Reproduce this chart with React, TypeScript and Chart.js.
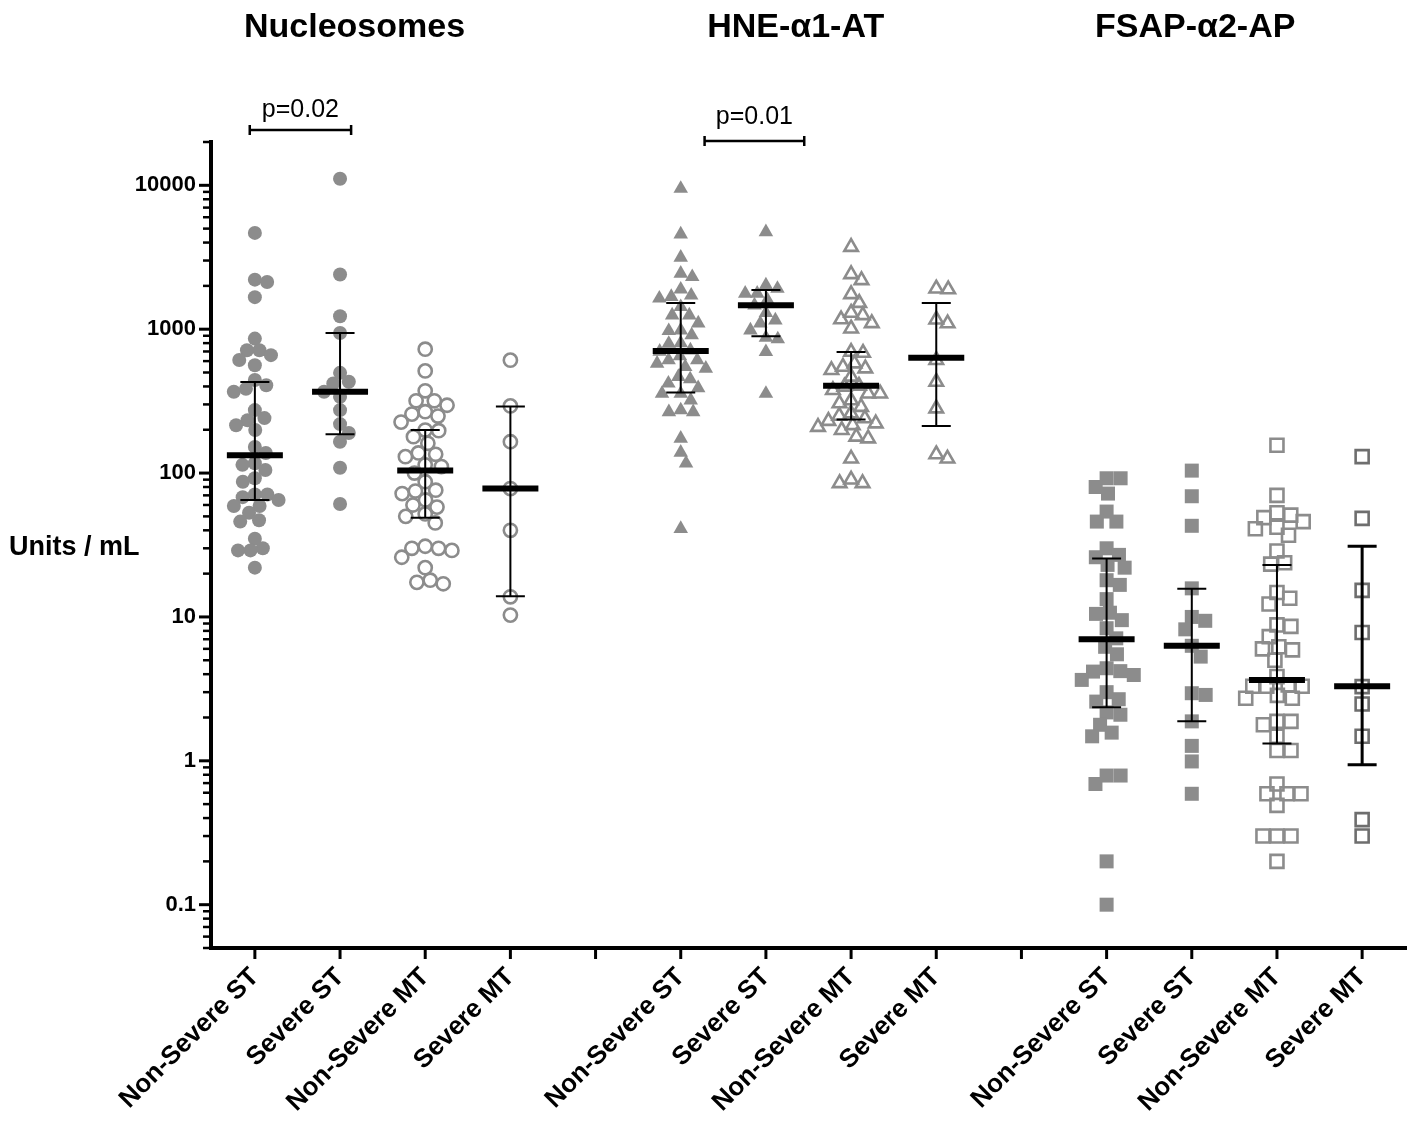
import React, { useEffect, useRef } from 'react';
import { Chart, registerables } from 'chart.js';

Chart.register(...registerables);

// ---------- data ----------
const categories = [
  'Non-Severe ST', 'Severe ST', 'Non-Severe MT', 'Severe MT', '',
  'Non-Severe ST', 'Severe ST', 'Non-Severe MT', 'Severe MT', '',
  'Non-Severe ST', 'Severe ST', 'Non-Severe MT', 'Severe MT',
];
const groupTitles = ['Nucleosomes', 'HNE-α1-AT', 'FSAP-α2-AP'];
const yTickLabels = [0.1, 1, 10, 100, 1000, 10000];
const pValueLabels = ['p=0.02', 'p=0.01'];
const yAxisTitle = 'Units / mL';

const nucNonSevereST = [4670, 2210, 2130, 1670, 860, 714, 714, 660, 610, 562, 443, 408, 385, 367, 274, 241, 233, 215, 199, 152, 138, 117, 114, 105, 92, 87, 71, 71, 68, 65, 59, 59, 53, 47, 46, 35, 30, 29, 29, 22];
const nucSevereST = [11100, 2400, 1230, 940, 497, 431, 420, 367, 339, 274, 219, 190, 165, 109, 61];
const nucNonSevereMT = [726, 513, 373, 318, 318, 296, 267, 257, 249, 226, 199, 197, 179, 161, 138, 135, 130, 114, 111, 100, 87, 76, 75, 72, 65, 60, 58, 52, 50, 45, 31, 30, 30, 29, 26, 22, 18, 17.4, 17];
const nucSevereMT = [609, 293, 165, 78, 40, 13.8, 10.3];

const hneNonSevereST = [9490, 4570, 3150, 2440, 2310, 1890, 1720, 1680, 1640, 1430, 1250, 1250, 1100, 984, 973, 909, 800, 794, 714, 700, 650, 610, 610, 578, 547, 533, 467, 450, 420, 390, 357, 357, 321, 274, 266, 266, 174, 139, 117, 41];
const hneSevereST = [4740, 2020, 1916, 1770, 1770, 1600, 1468, 1300, 1155, 1097, 984, 875, 853, 695, 357];
const hneNonSevereMT = [3730, 2410, 2190, 1750, 1520, 1300, 1250, 1170, 1100, 1010, 695, 684, 578, 547, 533, 519, 467, 404, 398, 377, 357, 357, 320, 305, 288, 260, 250, 240, 230, 221, 215, 209, 199, 179, 174, 126, 90, 85, 85];
const hneSevereMT = [1916, 1890, 1167, 1097, 610, 431, 281, 135, 126];

const fsapNonSevereST = [92, 92, 80, 72, 54, 46, 46, 30, 27, 26, 23, 22, 18, 16.7, 13.3, 10.7, 10.5, 9.5, 8.35, 7.1, 6.2, 5.5, 4.4, 4.2, 4.17, 3.95, 3.65, 3.0, 2.68, 2.58, 2.17, 2.09, 1.78, 1.57, 1.48, 0.79, 0.79, 0.69, 0.2, 0.1];
const fsapSevereST = [104, 69, 43, 15.8, 10, 9.4, 8.2, 6.3, 5.3, 2.95, 2.87, 1.88, 1.27, 0.99, 0.59];
const fsapNonSevereMT = [156, 70, 53, 51, 49, 46, 42, 41, 37, 28.7, 23.8, 23.3, 14.8, 13.5, 12.3, 8.8, 8.6, 7.3, 6.2, 6.0, 5.9, 5.0, 3.85, 3.37, 3.3, 3.3, 3.3, 2.85, 2.72, 2.72, 1.88, 1.88, 1.78, 1.48, 1.18, 1.18, 0.69, 0.59, 0.59, 0.59, 0.49, 0.3, 0.3, 0.3, 0.2];
const fsapSevereMT = [130, 48.4, 15.3, 7.8, 3.28, 2.48, 1.48, 0.39, 0.3];

// median and interquartile bars per category (null = gap)
const medians = [133, 367, 104, 78, null, 706, 1468, 404, 632, null, 7.0, 6.3, 3.65, 3.3];
const lowerBars = [65, 186, 49, 13.9, null, 363, 893, 236, 212, null, 2.36, 1.88, 1.32, 0.94];
const upperBars = [429, 942, 199, 290, null, 1520, 1870, 695, 1520, null, 25.5, 15.7, 23, 31];

// ---------- styles ----------
const FONT = '"Liberation Sans", Arial, Helvetica, sans-serif';
const GRAY = '#8c8c8c';
const DARK_GRAY = '#6e6e6e';

type Series = { cat: number; values: number[]; shape: string; filled: boolean; color: string };
const seriesList: Series[] = [
  { cat: 0, values: nucNonSevereST, shape: 'circle', filled: true, color: GRAY },
  { cat: 1, values: nucSevereST, shape: 'circle', filled: true, color: GRAY },
  { cat: 2, values: nucNonSevereMT, shape: 'circle', filled: false, color: GRAY },
  { cat: 3, values: nucSevereMT, shape: 'circle', filled: false, color: GRAY },
  { cat: 5, values: hneNonSevereST, shape: 'triangle', filled: true, color: GRAY },
  { cat: 6, values: hneSevereST, shape: 'triangle', filled: true, color: GRAY },
  { cat: 7, values: hneNonSevereMT, shape: 'triangle', filled: false, color: GRAY },
  { cat: 8, values: hneSevereMT, shape: 'triangle', filled: false, color: GRAY },
  { cat: 10, values: fsapNonSevereST, shape: 'rect', filled: true, color: GRAY },
  { cat: 11, values: fsapSevereST, shape: 'rect', filled: true, color: GRAY },
  { cat: 12, values: fsapNonSevereMT, shape: 'rect', filled: false, color: GRAY },
  { cat: 13, values: fsapSevereMT, shape: 'rect', filled: false, color: DARK_GRAY },
];

function radiusFor(shape: string, filled: boolean) {
  if (shape === 'circle') return filled ? 7 : 6.6;
  if (shape === 'triangle') return filled ? 8.4 : 7.8;
  return filled ? 9.9 : 9.2;
}

function spacingFor(shape: string, filled: boolean) {
  if (shape === 'circle') return filled ? 12.5 : 13.5;
  if (shape === 'triangle') return 12;
  return 14;
}

// simple beeswarm: place each point at the smallest horizontal offset that avoids overlap
function swarm(ys: number[], d: number): number[] {
  const order = ys.map((_, i) => i).sort((a, b) => ys[a] - ys[b]);
  const placed: { x: number; y: number }[] = [];
  const out = new Array(ys.length).fill(0);
  for (const i of order) {
    const y = ys[i];
    const near = placed.filter((p) => Math.abs(p.y - y) < d);
    const cands = [0];
    for (const p of near) {
      const h = Math.sqrt(d * d - (p.y - y) * (p.y - y));
      cands.push(p.x + h, p.x - h);
    }
    cands.sort((a, b) => Math.abs(a) - Math.abs(b) || b - a);
    let x = 0;
    for (const c of cands) {
      if (near.every((p) => (p.x - c) ** 2 + (p.y - y) ** 2 >= d * d - 0.01)) {
        x = c;
        break;
      }
    }
    placed.push({ x, y });
    out[i] = x;
  }
  return out;
}

const isPow10 = (v: number) => {
  const l = Math.log10(v);
  return Math.abs(l - Math.round(l)) < 1e-6;
};

const overlayPlugin = {
  id: 'overlay',
  afterDatasetsDraw(chart: any) {
    const { ctx, scales } = chart;
    const x = scales.x, y = scales.y;
    ctx.save();
    ctx.strokeStyle = '#000';
    ctx.lineCap = 'butt';
    medians.forEach((m, i) => {
      if (m == null) return;
      const px = x.getPixelForValue(i);
      const yl = y.getPixelForValue(lowerBars[i] as number);
      const yu = y.getPixelForValue(upperBars[i] as number);
      ctx.lineWidth = i === 13 ? 3 : 2;
      ctx.beginPath();
      ctx.moveTo(px, yl); ctx.lineTo(px, yu);
      ctx.moveTo(px - 14.5, yl); ctx.lineTo(px + 14.5, yl);
      ctx.moveTo(px - 14.5, yu); ctx.lineTo(px + 14.5, yu);
      ctx.stroke();
      const pm = y.getPixelForValue(m);
      ctx.lineWidth = 6;
      ctx.beginPath();
      ctx.moveTo(px - 28, pm); ctx.lineTo(px + 28, pm);
      ctx.stroke();
    });
    ctx.restore();
  },
  afterDraw(chart: any) {
    const { ctx, chartArea: ca, scales } = chart;
    const x = scales.x, y = scales.y;
    ctx.save();
    ctx.strokeStyle = '#000';
    // y ticks
    y.ticks.forEach((t: any) => {
      const py = y.getPixelForValue(t.value);
      const major = isPow10(t.value);
      ctx.lineWidth = major ? 3 : 2.5;
      ctx.beginPath();
      ctx.moveTo(ca.left, py);
      ctx.lineTo(ca.left - (major ? 12 : 8), py);
      ctx.stroke();
    });
    // x ticks
    x.ticks.forEach((t: any) => {
      const px = x.getPixelForValue(t.value);
      ctx.lineWidth = 3;
      ctx.beginPath();
      ctx.moveTo(px, ca.bottom);
      ctx.lineTo(px, ca.bottom + 11);
      ctx.stroke();
    });
    // group titles
    ctx.fillStyle = '#000';
    ctx.font = `bold 34px ${FONT}`;
    ctx.textAlign = 'center';
    ctx.textBaseline = 'alphabetic';
    const titleCenters = [1.17, 6.35, 11.04];
    groupTitles.forEach((t, i) => ctx.fillText(t, x.getPixelForValue(titleCenters[i]), 37));
    // p-value brackets
    const brackets = [
      { from: -0.06, to: 1.13, yLine: ca.top - 12, yText: ca.top - 25 },
      { from: 5.28, to: 6.45, yLine: ca.top - 1, yText: ca.top - 18 },
    ];
    ctx.font = `25px ${FONT}`;
    brackets.forEach((b, i) => {
      const x1 = x.getPixelForValue(b.from), x2 = x.getPixelForValue(b.to);
      ctx.lineWidth = 2.5;
      ctx.beginPath();
      ctx.moveTo(x1, b.yLine); ctx.lineTo(x2, b.yLine);
      ctx.moveTo(x1, b.yLine - 5); ctx.lineTo(x1, b.yLine + 5);
      ctx.moveTo(x2, b.yLine - 5); ctx.lineTo(x2, b.yLine + 5);
      ctx.stroke();
      ctx.fillText(pValueLabels[i], (x1 + x2) / 2, b.yText);
    });
    // y-axis title (horizontal)
    ctx.font = `bold 27px ${FONT}`;
    ctx.textAlign = 'left';
    ctx.textBaseline = 'middle';
    ctx.fillText(yAxisTitle, 9, (ca.top + ca.bottom) / 2 + 3);
    ctx.restore();
  },
};

export default function App() {
  const ref = useRef<HTMLCanvasElement | null>(null);
  useEffect(() => {
    const canvas = ref.current;
    if (!canvas) return;
    const datasets = seriesList.map((s) => ({
      data: s.values.map((v) => ({ x: s.cat, y: v })),
      pointStyle: s.shape,
      pointRadius: radiusFor(s.shape, s.filled),
      backgroundColor: s.filled ? s.color : 'rgba(0,0,0,0)',
      borderColor: s.color,
      borderWidth: s.filled ? 0 : 2.6,
      showLine: false,
      clip: false,
    }));
    const chart = new Chart(canvas, {
      type: 'scatter',
      data: { datasets: datasets as any },
      plugins: [overlayPlugin as any],
      options: {
        responsive: false,
        devicePixelRatio: 1,
        animation: false,
        events: [],
        layout: { autoPadding: false, padding: { left: 0, right: 3, top: 142, bottom: 0 } },
        plugins: { legend: { display: false }, tooltip: { enabled: false }, title: { display: false } },
        scales: {
          x: {
            type: 'linear',
            min: -0.515,
            max: 13.515,
            afterBuildTicks: (scale: any) => {
              scale.ticks = categories.map((_, i) => ({ value: i }));
            },
            afterFit: (scale: any) => {
              scale.height = 174;
              scale.paddingRight = 0;
              scale.paddingLeft = 0;
            },
            grid: { display: false, drawTicks: false },
            border: { display: true, width: 4, color: '#000' },
            ticks: {
              autoSkip: false,
              minRotation: 45,
              maxRotation: 45,
              padding: 14,
              color: '#000',
              font: { family: FONT, size: 26, weight: 'bold' },
              callback: (v: any) => categories[Math.round(Number(v))] ?? '',
            },
          },
          y: {
            type: 'logarithmic',
            min: 0.05,
            max: 20000,
            afterBuildTicks: (scale: any) => {
              const ticks: { value: number }[] = [];
              for (let e = -2; e <= 4; e++) {
                for (let m = 1; m <= 9; m++) {
                  const v = Number((m * Math.pow(10, e)).toPrecision(6));
                  if (v >= 0.05 - 1e-9 && v <= 20000 + 1e-9) ticks.push({ value: v });
                }
              }
              scale.ticks = ticks;
            },
            afterFit: (scale: any) => {
              scale.width = 211;
              scale.paddingTop = 0;
              scale.paddingBottom = 0;
            },
            grid: { display: false, drawTicks: false },
            border: { display: true, width: 4, color: '#000' },
            ticks: {
              autoSkip: false,
              padding: 15,
              color: '#000',
              font: { family: FONT, size: 22, weight: 'bold' },
              callback: (v: any) => {
                const n = Number(v);
                return yTickLabels.some((t) => Math.abs(t - n) < 1e-9) ? String(n) : '';
              },
            },
          },
        },
      },
    });

    // beeswarm layout of each column, computed through the chart's own scales
    const xs: any = chart.scales.x;
    const ys: any = chart.scales.y;
    const pxPerCat = xs.getPixelForValue(1) - xs.getPixelForValue(0);
    chart.data.datasets.forEach((ds: any, k: number) => {
      const s = seriesList[k];
      const pys = s.values.map((v) => ys.getPixelForValue(v));
      const offs = swarm(pys, spacingFor(s.shape, s.filled));
      ds.data = s.values.map((v, i) => ({ x: s.cat + offs[i] / pxPerCat, y: v }));
    });
    chart.update('none');

    return () => chart.destroy();
  }, []);

  return (
    <div style={{ position: 'absolute', left: 0, top: 0, width: 1409, height: 1122, background: '#fff' }}>
      <canvas ref={ref} width={1409} height={1122} style={{ display: 'block', width: 1409, height: 1122 }} />
    </div>
  );
}
